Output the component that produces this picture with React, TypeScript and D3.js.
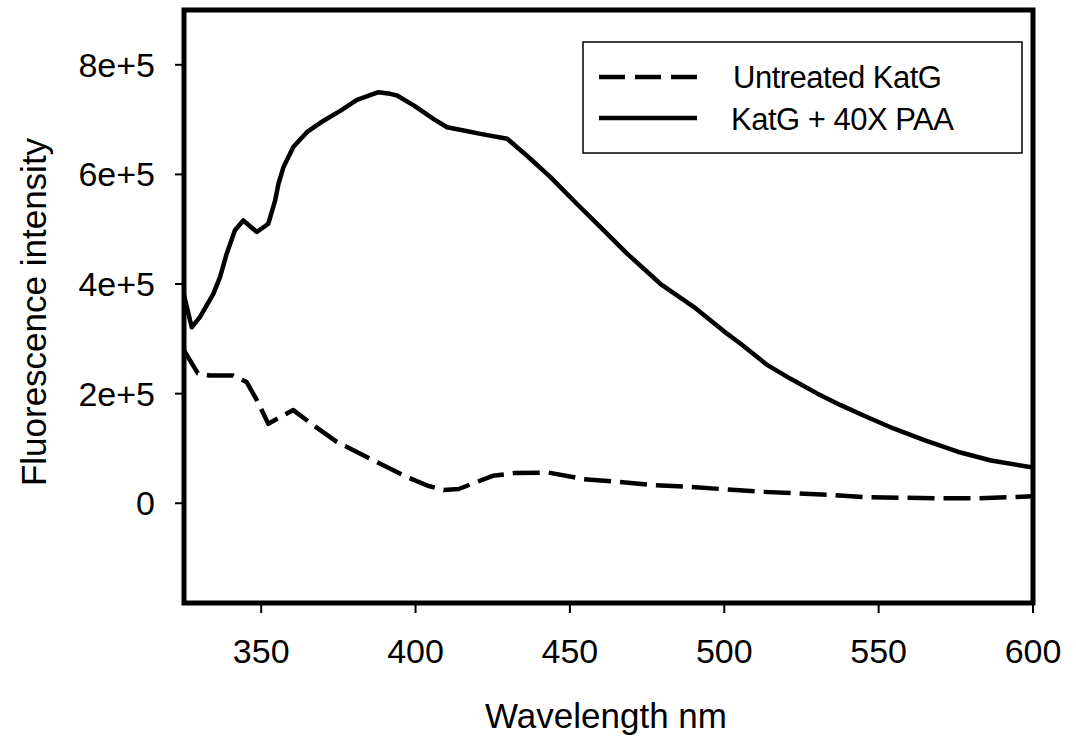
import React from "react";
import * as d3 from "d3";

const paaWavelength = [325, 327.5, 330.2, 334.5, 336.7, 338.8, 341.5, 344.2, 348.6, 352.3, 354.5, 355.6, 357.2, 360.4, 364.8, 370.2, 375.6, 381.0, 388.0, 391.8, 394.0, 399.4, 405.9, 410.2, 415.6, 421.0, 429.7, 436.1, 443.7, 452.3, 459.9, 468.6, 479.4, 490.2, 501.0, 505.3, 514.0, 521.5, 530.2, 537.7, 546.4, 555.0, 564.8, 575.6, 586.4, 600];
const paaIntensity = [380000, 321000, 340000, 382000, 413000, 455000, 498000, 516000, 495000, 510000, 552000, 583000, 613000, 650000, 677000, 698000, 716000, 736000, 750000, 747000, 744000, 726000, 701000, 686000, 680000, 674000, 665000, 634000, 595000, 546000, 504000, 455000, 400000, 358000, 309000, 291000, 252000, 227000, 200000, 179000, 157000, 136000, 115000, 94000, 78000, 65000];

const untreatedWavelength = [325, 329.5, 333.4, 340.9, 345.3, 348.6, 352.3, 356.1, 360.4, 367.0, 374.5, 386.4, 397.2, 404.0, 409.1, 414.0, 419.9, 425.0, 431.8, 443.1, 454.5, 465.8, 477.7, 489.1, 498.8, 511.8, 523.7, 535.0, 546.4, 557.7, 569.1, 581.0, 593.0, 600];
const untreatedIntensity = [279000, 237000, 233000, 233000, 221000, 188000, 145000, 157000, 170000, 142000, 112000, 78000, 48000, 32000, 24000, 26000, 39000, 50000, 55000, 56000, 44000, 39000, 33000, 30000, 26000, 21000, 18000, 15000, 11000, 10000, 9000, 9000, 11000, 13000];

const xTicks = [350, 400, 450, 500, 550, 600];
const yTicks = [0, 200000, 400000, 600000, 800000];
const yTickLabels = ["0", "2e+5", "4e+5", "6e+5", "8e+5"];
const seriesNames = ["Untreated KatG", "KatG + 40X PAA"];

const FONT = "'Liberation Sans', Arial, sans-serif";

export default function App() {
  const W = 1076, H = 737;
  const left = 184, right = 1033, top = 10, bottom = 603;
  const x = d3.scaleLinear().domain([325, 600]).range([left, right]);
  const y = d3.scaleLinear().domain([-182000, 900000]).range([bottom, top]);

  const line = d3.line<[number, number]>().x(d => x(d[0])).y(d => y(d[1]));
  const paaPath = line(paaWavelength.map((w, i) => [w, paaIntensity[i]] as [number, number])) || "";
  const untreatedPath = line(untreatedWavelength.map((w, i) => [w, untreatedIntensity[i]] as [number, number])) || "";

  return (
    <svg width={W} height={H} style={{ position: "absolute", left: 0, top: 0, background: "#fff" }}>
      <rect x={0} y={0} width={W} height={H} fill="#fff" />
      <defs>
        <clipPath id="plotClip">
          <rect x={left} y={top} width={right - left} height={bottom - top} />
        </clipPath>
      </defs>
      <g clipPath="url(#plotClip)">
        <path d={untreatedPath} fill="none" stroke="#000" strokeWidth={4.5} strokeDasharray="27 9" strokeLinejoin="round" />
        <path d={paaPath} fill="none" stroke="#000" strokeWidth={4.5} strokeLinejoin="round" />
      </g>
      {/* frame */}
      <rect x={left} y={top} width={right - left} height={bottom - top} fill="none" stroke="#000" strokeWidth={5} />
      {/* y ticks */}
      {yTicks.map((t, i) => (
        <g key={"y" + t}>
          <line x1={left - 9} x2={left} y1={y(t)} y2={y(t)} stroke="#000" strokeWidth={2} />
          <text x={155} y={y(t) + 12} textAnchor="end" fontFamily={FONT} fontSize={34} fill="#000">{yTickLabels[i]}</text>
        </g>
      ))}
      {/* x ticks */}
      {xTicks.map(t => (
        <g key={"x" + t}>
          <line x1={x(t)} x2={x(t)} y1={bottom} y2={bottom + 10} stroke="#000" strokeWidth={2} />
          <text x={x(t)} y={663} textAnchor="middle" fontFamily={FONT} fontSize={34} fill="#000">{t}</text>
        </g>
      ))}
      {/* axis titles */}
      <text x={606} y={728} textAnchor="middle" fontFamily={FONT} fontSize={35} fill="#000">Wavelength nm</text>
      <text transform={`translate(46,312) rotate(-90)`} textAnchor="middle" fontFamily={FONT} fontSize={35} fill="#000">Fluorescence intensity</text>
      {/* legend */}
      <rect x={583} y={42} width={439} height={111} fill="#fff" stroke="#000" strokeWidth={1.5} />
      <line x1={599} x2={697} y1={77} y2={77} stroke="#000" strokeWidth={4.5} strokeDasharray="26 10" />
      <line x1={599} x2={697} y1={118} y2={118} stroke="#000" strokeWidth={4.5} />
      <text x={733} y={88} fontFamily={FONT} fontSize={31} fill="#000" letterSpacing={-0.5}>{seriesNames[0]}</text>
      <text x={731} y={130} fontFamily={FONT} fontSize={31} fill="#000" letterSpacing={-0.5}>{seriesNames[1]}</text>
    </svg>
  );
}
